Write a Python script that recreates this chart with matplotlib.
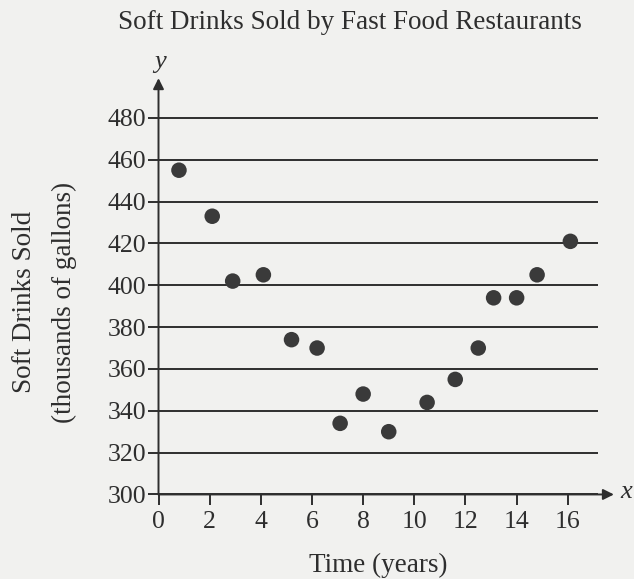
import matplotlib
matplotlib.use("Agg")
import matplotlib.pyplot as plt
import numpy as np

# Years since start and soft drinks sold (thousands of gallons)
years = [0.8, 2.1, 2.9, 4.1, 5.2, 6.2, 7.1, 8.0, 9.0, 10.5, 11.6, 12.5, 13.1, 14.0, 14.8, 16.1]
gallons = [455, 433, 402, 405, 374, 370, 334, 348, 330, 344, 355, 370, 394, 394, 405, 421]

x_ticks = [0, 2, 4, 6, 8, 10, 12, 14, 16]
y_ticks = [300, 320, 340, 360, 380, 400, 420, 440, 460, 480]

title = "Soft Drinks Sold by Fast Food Restaurants"
x_label = "Time (years)"
y_label_lines = ["Soft Drinks Sold", "(thousands of gallons)"]

ink = "#2e2e2e"
paper = "#f1f1ef"

plt.rcParams["font.family"] = ["Liberation Serif", "DejaVu Serif"]

fig = plt.figure(figsize=(6.34, 5.79), dpi=100, facecolor=paper)
ax = fig.add_axes([0.250, 0.146, 0.694, 0.719])
ax.set_facecolor(paper)

ax.set_xlim(0, 17.2)
ax.set_ylim(300, 499)

# horizontal rules at each y tick
for v in y_ticks:
    ax.axhline(v, color=ink, lw=1.4, zorder=1)

ax.scatter(years, gallons, s=125, color="#3a3a3a", edgecolors="none", zorder=3)

for side in ["top", "right", "left", "bottom"]:
    ax.spines[side].set_visible(False)

# axes with arrowheads
ax.annotate("", xy=(0, 1.0), xytext=(0, 0), xycoords="axes fraction",
            arrowprops=dict(arrowstyle="-|>", color=ink, lw=1.4,
                            mutation_scale=16, shrinkA=0, shrinkB=0),
            annotation_clip=False)
ax.annotate("", xy=(1.035, 0), xytext=(0, 0), xycoords="axes fraction",
            arrowprops=dict(arrowstyle="-|>", color=ink, lw=1.4,
                            mutation_scale=16, shrinkA=0, shrinkB=0),
            annotation_clip=False)
ax.text(0.003, 1.04, "y", transform=ax.transAxes, ha="center", va="center",
        fontsize=19, style="italic", color=ink)
ax.text(1.05, 0.006, "x", transform=ax.transAxes, ha="left", va="center",
        fontsize=19, style="italic", color=ink)

ax.set_xticks(x_ticks)
ax.set_yticks(y_ticks)
ax.set_xticklabels([str(t) for t in x_ticks])
ax.set_yticklabels([str(t) for t in y_ticks])
ax.tick_params(axis="both", colors=ink, labelcolor=ink, labelsize=18.5,
               width=1.4, length=8, direction="out")
ax.tick_params(axis="x", pad=4)
ax.tick_params(axis="y", pad=1)

ax.set_xlabel(x_label, fontsize=19.5, color=ink, labelpad=14)
fig.text(0.038, 0.478, y_label_lines[0], rotation=90, ha="center", va="center",
         fontsize=19.5, color=ink)
fig.text(0.102, 0.478, y_label_lines[1], rotation=90, ha="center", va="center",
         fontsize=19.5, color=ink)

fig.text(0.552, 0.962, title, ha="center", va="center", fontsize=19.5, color=ink)

fig.savefig("out.png", dpi=100, facecolor=paper)
